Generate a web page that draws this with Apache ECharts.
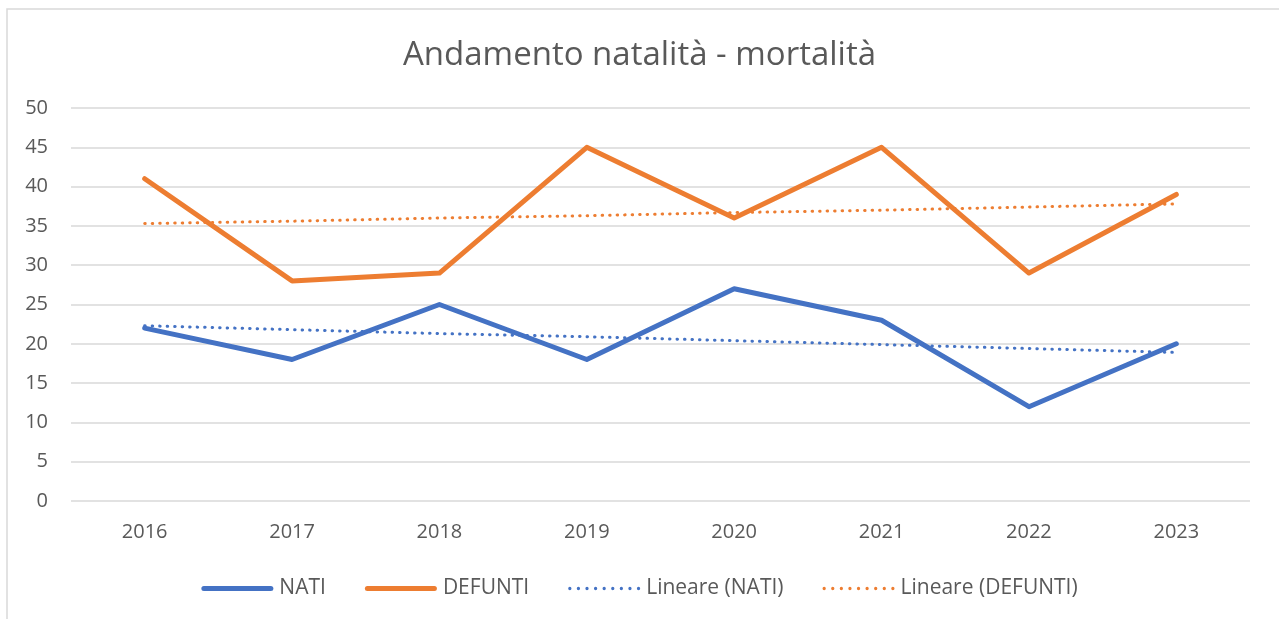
<!DOCTYPE html>
<html>
<head>
<meta charset="utf-8">
<title>Andamento natalità - mortalità</title>
<script src="https://cdn.jsdelivr.net/npm/echarts@6/dist/echarts.min.js"></script>
<style>
  html, body { margin: 0; padding: 0; background: #fff; }
  #chart { width: 1279px; height: 619px; }
</style>
</head>
<body>
<div id="chart"></div>
<script>
// dati
const anni = ['2016', '2017', '2018', '2019', '2020', '2021', '2022', '2023'];
const nati = [22, 18, 25, 18, 27, 23, 12, 20];
const defunti = [41, 28, 29, 45, 36, 45, 29, 39];
// linee di tendenza lineari
const lineareNati = [22.3, 21.8, 21.3, 20.9, 20.4, 19.9, 19.4, 18.9];
const lineareDefunti = [35.3, 35.6, 36.0, 36.3, 36.7, 37.0, 37.4, 37.8];

const BLU = '#4472C4';
const ARANCIO = '#ED7D31';
const TESTO = '#595959';
const FONT = '"Open Sans", "Noto Sans", sans-serif';

// icone legenda: linea piena arrotondata e linea a puntini
const ICONA_PIENA = 'path://M2.5,0H69.5A2.5,2.5,0,0,1,69.5,5H2.5A2.5,2.5,0,0,1,2.5,0Z';
let ICONA_PUNTI = 'path://';
for (let i = 0; i < 9; i++) {
  const cx = 1.5 + i * 7.8;
  ICONA_PUNTI += 'M' + (cx - 1.5) + ',1.5A1.5,1.5,0,1,0,' + (cx + 1.5) + ',1.5A1.5,1.5,0,1,0,' + (cx - 1.5) + ',1.5Z';
}

const chart = echarts.init(document.getElementById('chart'), null, { renderer: 'canvas' });

chart.setOption({
  animation: false,
  textStyle: { fontFamily: FONT },
  graphic: [{
    type: 'rect',
    shape: { x: 7, y: 9, width: 1300, height: 700 },
    style: { fill: 'none', stroke: '#d9d9d9', lineWidth: 1.5 },
    silent: true
  }],
  title: {
    text: 'Andamento natalità - mortalità',
    left: 'center',
    top: 34,
    textStyle: { color: TESTO, fontSize: 33, fontWeight: 'normal', fontFamily: FONT }
  },
  legend: {
    top: 573,
    left: 'center',
    itemWidth: 72,
    itemHeight: 6,
    itemGap: 39,
    textStyle: { color: TESTO, fontSize: 21, fontFamily: FONT, padding: [0, 0, 0, 1] },
    data: [
      { name: 'NATI', icon: ICONA_PIENA },
      { name: 'DEFUNTI', icon: ICONA_PIENA },
      { name: 'Lineare (NATI)', icon: ICONA_PUNTI },
      { name: 'Lineare (DEFUNTI)', icon: ICONA_PUNTI }
    ]
  },
  grid: { left: 71, right: 29, top: 108, bottom: 118, containLabel: false },
  xAxis: {
    type: 'category',
    data: anni,
    boundaryGap: true,
    axisLine: { show: false },
    axisTick: { show: false },
    axisLabel: { color: TESTO, fontSize: 20, margin: 21 }
  },
  yAxis: {
    type: 'value',
    min: 0,
    max: 50,
    interval: 5,
    axisLine: { show: false },
    axisTick: { show: false },
    axisLabel: { color: TESTO, fontSize: 20, margin: 23 },
    splitLine: { lineStyle: { color: '#d9d9d9', width: 1.5 } }
  },
  series: [
    {
      name: 'NATI', type: 'line', data: nati,
      symbol: 'none', color: BLU,
      lineStyle: { color: BLU, width: 5, cap: 'round', join: 'round' }
    },
    {
      name: 'DEFUNTI', type: 'line', data: defunti,
      symbol: 'none', color: ARANCIO,
      lineStyle: { color: ARANCIO, width: 5, cap: 'round', join: 'round' }
    },
    {
      name: 'Lineare (NATI)', type: 'line', data: lineareNati,
      symbol: 'none', color: BLU,
      lineStyle: { color: BLU, width: 3, type: [0.5, 7], cap: 'round' }
    },
    {
      name: 'Lineare (DEFUNTI)', type: 'line', data: lineareDefunti,
      symbol: 'none', color: ARANCIO,
      lineStyle: { color: ARANCIO, width: 3, type: [0.5, 7], cap: 'round' }
    }
  ]
});
</script>
</body>
</html>
